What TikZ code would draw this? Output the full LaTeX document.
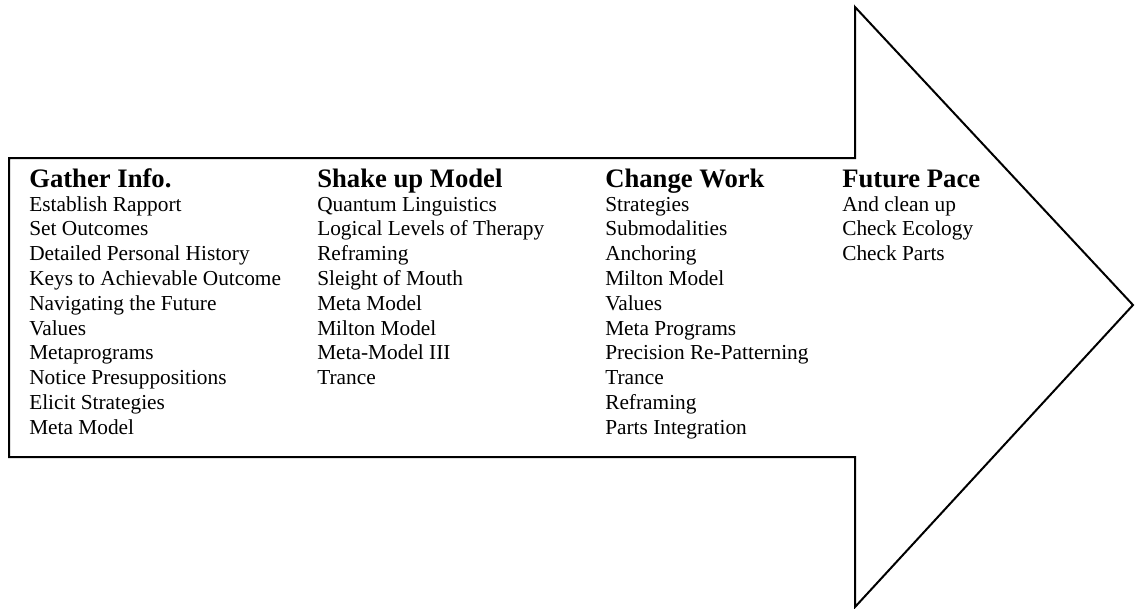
\documentclass[tikz,border=0pt]{standalone}
\usepackage{fontspec}
\setmainfont{Liberation Serif}
\begin{document}
\begin{tikzpicture}[x=0.75pt,y=-0.75pt,
  arrowline/.style={draw=black,line width=1.5pt,line join=miter},
  stagehead/.style={anchor=base west,inner sep=0pt,font=\bfseries\fontsize{20}{24}\selectfont},
  stageitem/.style={anchor=base west,inner sep=0pt,font=\fontsize{16}{18.6}\selectfont}]
\useasboundingbox (0,0) rectangle (1135,608);

% the big block arrow
\draw[arrowline] (9,158) -- (855,158) -- (855,7) -- (1133,305)
  -- (855,607) -- (855,457) -- (9,457) -- cycle;

% column 1
\node[stagehead] (gh) at (29,187) {Gather Info.};
\foreach \t [count=\i] in {Establish Rapport, Set Outcomes, Detailed Personal History,
  Keys to Achievable Outcome, Navigating the Future, Values, Metaprograms,
  Notice Presuppositions, Elicit Strategies, Meta Model}
  \node[stageitem] (g\i) at (29,{211+24.8*(\i-1)}) {\t};

% column 2
\node[stagehead] (sh) at (317,187) {Shake up Model};
\foreach \t [count=\i] in {Quantum Linguistics, Logical Levels of Therapy, Reframing,
  Sleight of Mouth, Meta Model, Milton Model, Meta-Model III, Trance}
  \node[stageitem] (s\i) at (317,{211+24.8*(\i-1)}) {\t};

% column 3
\node[stagehead] (ch) at (605,187) {Change Work};
\foreach \t [count=\i] in {Strategies, Submodalities, Anchoring, Milton Model, Values,
  Meta Programs, Precision Re-Patterning, Trance, Reframing, Parts Integration}
  \node[stageitem] (c\i) at (605,{211+24.8*(\i-1)}) {\t};

% column 4
\node[stagehead] (fh) at (842,187) {Future Pace};
\foreach \t [count=\i] in {And clean up, Check Ecology, Check Parts}
  \node[stageitem] (f\i) at (842,{211+24.8*(\i-1)}) {\t};
\end{tikzpicture}
\end{document}
